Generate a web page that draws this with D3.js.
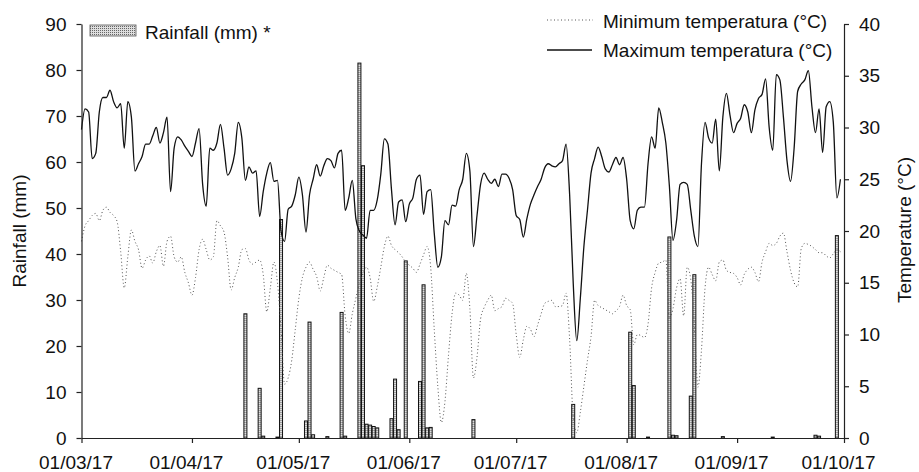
<!DOCTYPE html>
<html>
<head>
<meta charset="utf-8">
<script src="https://cdn.jsdelivr.net/npm/d3@7"></script>
<style>
  body { margin: 0; background: #fff; overflow: hidden; }
  svg { display: block; }
  svg text { font-family: "Liberation Sans", Arial, sans-serif; fill: #111; }
</style>
</head>
<body>
<div id="chart"></div>
<script>
// daily series start on 01/03/17
const startDate = "2017-03-01";

const tmax = [
  29.8, 31.8, 31.5, 27.0, 27.5, 31.5, 32.9, 32.9, 33.6, 32.5,
  31.9, 32.3, 28.0, 32.5, 31.0, 25.8, 26.5, 27.2, 28.4, 28.4,
  29.2, 30.0, 28.5, 29.5, 31.0, 23.8, 28.0, 29.1, 28.8, 28.2,
  27.7, 27.2, 28.5, 29.9, 24.5, 22.4, 28.0, 27.8, 28.5, 30.3,
  28.0, 25.4, 26.0, 27.5, 30.5, 29.0, 24.9, 26.2, 25.6, 25.8,
  21.4, 23.8, 25.6, 26.6, 24.8, 24.9, 20.0, 19.0, 22.1, 22.4,
  23.5, 25.2, 23.5, 19.9, 23.5, 25.0, 26.4, 25.3, 26.3, 27.0,
  26.8, 26.1, 27.5, 27.8, 22.0, 23.2, 24.9, 21.2, 20.0, 19.6,
  19.3, 22.0, 22.0, 23.0, 25.5, 28.9, 28.4, 24.0, 20.6, 22.8,
  23.0, 20.9, 22.6, 23.2, 25.0, 25.4, 21.6, 23.8, 24.0, 19.8,
  16.5, 17.5, 21.0, 20.6, 22.5, 22.4, 24.0, 25.0, 27.5, 25.8,
  18.5, 21.5, 24.5, 25.6, 25.0, 24.6, 25.0, 24.3, 25.5, 25.5,
  25.1, 24.0, 21.5, 21.1, 19.4, 21.2, 22.6, 23.5, 24.3, 25.0,
  26.1, 26.5, 26.3, 26.2, 26.5, 26.8, 28.4, 23.5, 15.0, 9.4,
  13.5, 18.5, 22.0, 25.6, 27.0, 28.1, 27.2, 26.0, 25.7, 26.4,
  27.1, 26.4, 27.1, 25.0, 21.0, 20.2, 22.0, 22.3, 22.3, 26.5,
  29.1, 28.0, 31.9, 30.5, 28.5, 24.3, 19.1, 21.0, 24.5, 24.7,
  24.5, 22.0, 19.5, 18.5, 26.5, 30.5, 29.0, 28.5, 30.8, 25.8,
  31.0, 33.3, 31.2, 29.5, 30.4, 30.9, 32.2, 31.5, 29.5, 31.7,
  32.8, 33.2, 34.7, 30.0, 27.8, 35.1, 34.6, 31.0, 26.8, 24.8,
  28.0, 33.5, 34.2, 34.6, 35.5, 32.0, 29.5, 31.8, 27.6, 32.0,
  32.5, 30.5, 23.2, 25.0
];

const tmin = [
  19.0, 20.5, 21.0, 21.5, 21.7, 21.0, 22.0, 22.3, 21.8, 21.5,
  20.9, 18.0, 14.5, 17.5, 20.1, 19.0, 18.2, 16.4, 17.2, 17.6,
  16.9, 18.0, 18.6, 16.6, 19.0, 19.5, 17.5, 17.0, 17.5, 16.0,
  15.0, 13.8, 15.5, 18.2, 19.2, 18.2, 17.2, 17.5, 21.0, 20.5,
  19.9, 17.5, 14.3, 15.5, 16.5, 18.2, 18.3, 17.2, 16.8, 17.0,
  17.2, 15.8, 12.2, 14.5, 17.0, 15.0, 10.5, 5.2, 5.8, 7.5,
  10.5, 13.5, 15.5, 16.5, 17.0, 16.3, 15.6, 14.2, 15.5, 16.7,
  16.4, 16.2, 16.0, 15.8, 11.8, 10.1, 12.0, 13.5, 15.0, 15.9,
  16.5, 15.5, 13.2, 14.6, 16.5, 18.5, 19.5, 18.6, 18.2, 17.9,
  17.5, 17.0, 16.7, 16.4, 16.0, 16.8, 17.7, 18.5, 16.5, 10.5,
  5.0, 1.5, 3.5, 8.0, 12.0, 14.0, 13.8, 13.3, 15.9, 12.5,
  5.8, 7.8, 11.5, 12.6, 13.3, 13.8, 12.3, 12.5, 12.7, 13.5,
  13.3, 13.0, 10.0, 7.8, 9.5, 10.8, 10.5, 9.8, 10.9, 12.0,
  13.0, 13.2, 13.3, 12.7, 12.7, 12.8, 14.0, 9.5, 2.0, 0.5,
  2.5, 5.0, 7.5, 9.8, 13.3, 12.8, 12.6, 12.4, 12.2, 12.0,
  12.3, 12.7, 13.8, 12.8, 12.4, 9.0, 10.0, 9.9, 9.7, 11.0,
  14.5, 16.0, 16.9, 17.0, 17.2, 11.5, 12.5, 14.5, 15.4, 11.8,
  16.5, 15.3, 11.0, 4.9, 8.5, 14.5, 16.5, 15.8, 15.2, 17.0,
  17.2, 16.2, 16.0, 15.9, 15.5, 14.8, 15.8, 16.3, 16.5, 16.0,
  15.1, 17.0, 18.0, 18.8, 18.6, 18.8, 19.5, 19.8, 18.0, 16.2,
  15.0, 14.6, 18.3, 18.8, 18.7, 18.5, 18.2, 17.9, 17.9, 17.6,
  17.4, 17.8, 18.2, 18.0
];

const rainDates = [
  "2017-04-16", "2017-04-20", "2017-04-21", "2017-04-25", "2017-04-26",
  "2017-05-03", "2017-05-04", "2017-05-05", "2017-05-09", "2017-05-13",
  "2017-05-14", "2017-05-18", "2017-05-19", "2017-05-20", "2017-05-21",
  "2017-05-22", "2017-05-23", "2017-05-27", "2017-05-28", "2017-05-29",
  "2017-05-31", "2017-06-04", "2017-06-05", "2017-06-06", "2017-06-07",
  "2017-06-19", "2017-07-17", "2017-08-02", "2017-08-03", "2017-08-07",
  "2017-08-13", "2017-08-14", "2017-08-15", "2017-08-19", "2017-08-20",
  "2017-08-28", "2017-09-11", "2017-09-23", "2017-09-24", "2017-09-29"
];
const rainValues = [
  27.0, 10.8, 0.4, 0.2, 47.5,
  3.7, 25.2, 0.7, 0.3, 27.3,
  0.4, 81.5, 59.2, 3.0, 2.8,
  2.5, 2.2, 4.2, 12.8, 1.8,
  38.5, 12.3, 33.3, 2.2, 2.3,
  4.0, 7.3, 23.0, 11.4, 0.2,
  43.7, 0.6, 0.5, 9.1, 35.5,
  0.3, 0.2, 0.6, 0.4, 44.0
];

const rainTicks = d3.range(0, 91, 10);
const tempTicks = d3.range(0, 41, 5);

const width = 919, height = 472;
const margin = { top: 24, right: 75.5, bottom: 34, left: 81.5 };
const innerWidth = 844 - margin.left;
const innerHeight = 438 - margin.top;

const parse = d3.timeParse("%Y-%m-%d");
const day0 = parse(startDate);
const tempData = tmax.map((v, i) => ({
  date: d3.timeDay.offset(day0, i), max: v, min: tmin[i]
}));
const rainData = rainDates.map((d, i) => ({ date: parse(d), value: rainValues[i] }));

const svg = d3.select("#chart").append("svg")
  .attr("width", width)
  .attr("height", height);

const defs = svg.append("defs");
const pat = defs.append("pattern")
  .attr("id", "dots")
  .attr("width", 2).attr("height", 2)
  .attr("patternUnits", "userSpaceOnUse");
pat.append("rect").attr("width", 2).attr("height", 2).attr("fill", "#dedede");
pat.append("rect").attr("width", 1).attr("height", 1).attr("fill", "#666");

const g = svg.append("g").attr("transform", `translate(${margin.left},${margin.top})`);

const x = d3.scaleTime()
  .domain([day0, parse("2017-10-01")])
  .range([0, innerWidth]);
const yRain = d3.scaleLinear().domain([0, 90]).range([innerHeight, 0]);
const yTemp = d3.scaleLinear().domain([0, 40]).range([innerHeight, 0]);

// rainfall bars
const barW = 3;
g.selectAll(".bar")
  .data(rainData)
  .enter()
  .append("rect")
  .attr("class", "bar")
  .attr("x", d => x(d.date) - barW / 2)
  .attr("y", d => yRain(d.value))
  .attr("width", barW)
  .attr("height", d => innerHeight - yRain(d.value))
  .attr("fill", "url(#dots)")
  .attr("stroke", "#111")
  .attr("stroke-width", 1);

// temperature lines
const lineMin = d3.line().x(d => x(d.date)).y(d => yTemp(d.min)).curve(d3.curveMonotoneX);
const lineMax = d3.line().x(d => x(d.date)).y(d => yTemp(d.max)).curve(d3.curveMonotoneX);

g.append("path")
  .datum(tempData)
  .attr("d", lineMin)
  .attr("fill", "none")
  .attr("stroke", "#555")
  .attr("stroke-width", 1)
  .attr("stroke-dasharray", "1,2.5");

g.append("path")
  .datum(tempData)
  .attr("d", lineMax)
  .attr("fill", "none")
  .attr("stroke", "#111")
  .attr("stroke-width", 1.3);

// axes
const fontSize = 19;
const styleAxis = sel => {
  sel.attr("font-size", fontSize).attr("font-family", "Liberation Sans, Arial, sans-serif");
  sel.selectAll("path, line").attr("stroke", "#222").attr("stroke-width", 1.2);
  sel.selectAll("text").attr("fill", "#111");
};

g.append("g")
  .call(d3.axisLeft(yRain).tickValues(rainTicks).tickSize(5).tickSizeOuter(0).tickPadding(10))
  .call(styleAxis);

g.append("g")
  .attr("transform", `translate(${innerWidth},0)`)
  .call(d3.axisRight(yTemp).tickValues(tempTicks).tickSize(5).tickSizeOuter(0).tickPadding(10))
  .call(styleAxis);

const xAxis = g.append("g")
  .attr("transform", `translate(0,${innerHeight})`)
  .call(d3.axisBottom(x).ticks(d3.timeMonth.every(1)).tickFormat(d3.timeFormat("%d/%m/%y"))
    .tickSize(5).tickSizeOuter(0).tickPadding(13))
  .call(styleAxis);
xAxis.selectAll("text").attr("dx", -6);

// axis titles
svg.append("text")
  .attr("transform", "translate(26,231) rotate(-90)")
  .attr("text-anchor", "middle")
  .attr("font-size", fontSize)
  .text("Rainfall (mm)");

svg.append("text")
  .attr("transform", "translate(911,230) rotate(-90)")
  .attr("text-anchor", "middle")
  .attr("font-size", fontSize)
  .text("Temperature (°C)");

// legends
svg.append("rect")
  .attr("x", 90).attr("y", 25).attr("width", 46).attr("height", 11)
  .attr("fill", "url(#dots)")
  .attr("stroke", "#555")
  .attr("stroke-width", 0.8);
svg.append("text")
  .attr("x", 145).attr("y", 39)
  .attr("font-size", fontSize)
  .text("Rainfall (mm) *");

svg.append("line")
  .attr("x1", 547).attr("x2", 593).attr("y1", 20).attr("y2", 20)
  .attr("stroke", "#555").attr("stroke-width", 1).attr("stroke-dasharray", "1,2.5");
svg.append("text")
  .attr("x", 603).attr("y", 28)
  .attr("font-size", fontSize)
  .text("Minimum temperatura (°C)");

svg.append("line")
  .attr("x1", 547).attr("x2", 592).attr("y1", 50).attr("y2", 50)
  .attr("stroke", "#111").attr("stroke-width", 1.3);
svg.append("text")
  .attr("x", 603).attr("y", 57)
  .attr("font-size", fontSize)
  .text("Maximum temperatura (°C)");
</script>
</body>
</html>
